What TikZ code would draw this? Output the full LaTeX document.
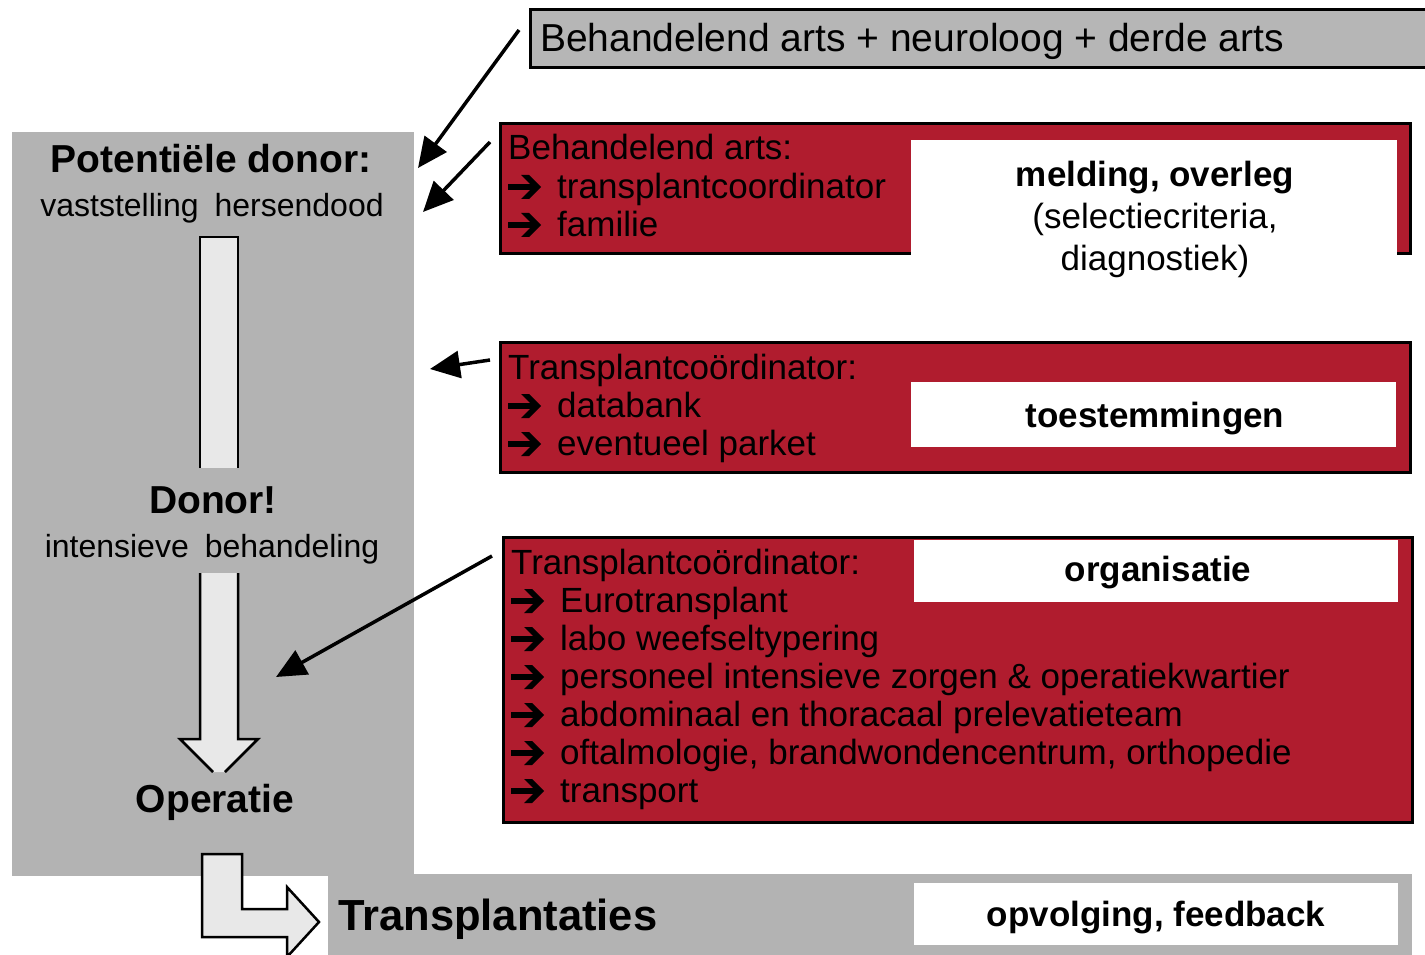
\documentclass[tikz,border=0pt]{standalone}
\usepackage{fontspec}
\setmainfont{Liberation Sans}
\usetikzlibrary{arrows.meta}
\definecolor{panelgrey}{RGB}{179,179,179}
\definecolor{topgrey}{RGB}{182,182,182}
\definecolor{donorred}{RGB}{176,28,46}
\definecolor{shaftgrey}{RGB}{232,232,232}
% bullet arrow in the red boxes
\newcommand{\arr}{\makebox[49pt][l]{\tikz[x=1pt,y=1pt,baseline=1pt]{%
  \fill (0,9) rectangle (25,15);
  \fill (13,0) -- (21,0) -- (33,12) -- (21,24) -- (13,24) -- (25,12) -- cycle;}}}
\tikzset{
  item/.style={anchor=base west, inner sep=0pt, font=\fontsize{35}{40}\selectfont},
  tag/.style={anchor=base, inner sep=0pt, font=\fontsize{35}{40}\selectfont\bfseries},
  plaintag/.style={anchor=base, inner sep=0pt, font=\fontsize{35}{40}\selectfont},
  stage/.style={anchor=base, inner sep=0pt, font=\fontsize{39}{44}\selectfont\bfseries},
  substage/.style={anchor=base, inner sep=0pt, font=\fontsize{32}{38}\selectfont},
  redbox/.style={draw=black, line width=3pt, fill=donorred},
  link/.style={line width=3.5pt, -{Triangle[length=30pt,width=27pt]}},
  blockarrow/.style={draw=black, line width=2.5pt, line join=miter},
}
\begin{document}
\begin{tikzpicture}[x=1pt, y=-1pt]
  \useasboundingbox (0,0) rectangle (1425,955);
  \clip (0,0) rectangle (1425,955);

  % grey panels
  \fill[panelgrey] (12,132) rectangle (414,876);
  \fill[panelgrey] (328,874) rectangle (1412,960);
  \fill[white] (914,883) rectangle (1398,945);

  % top box
  \draw[line width=3pt, fill=topgrey] (530,10) rectangle (1440,68);
  \node[item, font=\fontsize{39}{44}\selectfont] (artsen) at (540,52)
    {Behandelend arts + neuroloog + derde arts};

  % red boxes
  \draw[redbox] (500,124) rectangle (1410,253);
  \fill[white] (911,140) rectangle (1397,290);
  \draw[redbox] (500,342) rectangle (1410,472);
  \fill[white] (911,382) rectangle (1396,447);
  \draw[redbox] (503,537) rectangle (1412,822);
  \fill[white] (914,540) rectangle (1398,602);

  % box 1
  \node[item] (arts) at (508,160) {Behandelend arts:};
  \node[item] (coord) at (508,198) {\arr transplantcoordinator};
  \node[item] (fam) at (508,236) {\arr familie};
  \node[tag] (melding) at (1155,186) {melding, overleg};
  \node[plaintag] (crit) at (1155,228) {(selectiecriteria,};
  \node[plaintag] (diag) at (1155,270) {diagnostiek)};

  % box 2
  \node[item] (tc1) at (508,379) {Transplantcoördinator:};
  \node[item] (bank) at (508,417) {\arr databank};
  \node[item] (parket) at (508,455) {\arr eventueel parket};
  \node[tag] (toest) at (1155,427) {toestemmingen};

  % box 3
  \node[item] (tc2) at (511,574) {Transplantcoördinator:};
  \node[item] (euro) at (511,612) {\arr Eurotransplant};
  \node[item] (labo) at (511,650) {\arr labo weefseltypering};
  \node[item] (pers) at (511,688) {\arr personeel intensieve zorgen \& operatiekwartier};
  \node[item] (team) at (511,726) {\arr abdominaal en thoracaal prelevatieteam};
  \node[item] (oft) at (511,764) {\arr oftalmologie, brandwondencentrum, orthopedie};
  \node[item] (trans) at (511,802) {\arr transport};
  \node[tag] (org) at (1158,581) {organisatie};

  % stages
  \node[stage] (pot) at (211,173) {Potentiële donor:};
  \node[substage] (hd) at (212,216) {vaststelling\hspace{0.5em}hersendood};
  \node[stage] (donor) at (213,513) {Donor!};
  \node[substage] (ib) at (212,557) {intensieve\hspace{0.5em}behandeling};
  \node[stage] (oper) at (215,812) {Operatie};
  \node[anchor=base west, inner sep=0pt, font=\fontsize{43.5}{48}\selectfont\bfseries]
    (tx) at (338,930) {Transplantaties};
  \node[tag] (opv) at (1156,926) {opvolging, feedback};

  % block arrows
  \fill[shaftgrey] (200,237) rectangle (238,468);
  \draw[blockarrow] (200,468) -- (200,237) -- (238,237) -- (238,468);
  \fill[shaftgrey] (200,573) -- (200,739) -- (180,739) -- (213,772)
    -- (225,772) -- (258,739) -- (238,739) -- (238,573) -- cycle;
  \draw[blockarrow] (200,573) -- (200,739) -- (180,739) -- (213,772);
  \draw[blockarrow] (225,772) -- (258,739) -- (238,739) -- (238,573);
  \draw[blockarrow, fill=shaftgrey] (202,854) -- (242,854) -- (242,909)
    -- (287,909) -- (287,887) -- (319,922) -- (287,957) -- (287,937)
    -- (202,937) -- cycle;

  % links
  \coordinate (l1s) at (519,30);
  \coordinate (l1e) at (418,168);
  \coordinate (l2s) at (490,142);
  \coordinate (l2e) at (423,212);
  \coordinate (l3s) at (490,360);
  \coordinate (l3e) at (430,369);
  \coordinate (l4s) at (492,556);
  \coordinate (l4e) at (276,677);
  \draw[link] (l1s) -- (l1e);
  \draw[link] (l2s) -- (l2e);
  \draw[link] (l3s) -- (l3e);
  \draw[link] (l4s) -- (l4e);
\end{tikzpicture}
\end{document}
